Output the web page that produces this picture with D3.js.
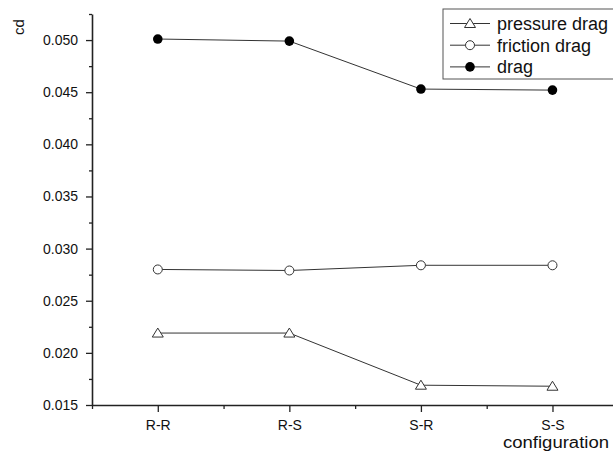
<!DOCTYPE html>
<html>
<head>
<meta charset="utf-8">
<script src="https://cdn.jsdelivr.net/npm/d3@7"></script>
<style>
  body { margin: 0; background: #fff; }
  svg { font-family: "Liberation Sans", Arial, sans-serif; }
</style>
</head>
<body>
<div id="chart"></div>
<script>
// categories and series
var categories = ["R-R", "R-S", "S-R", "S-S"];
var pressureDrag = [0.0219, 0.0219, 0.0169, 0.0168];
var frictionDrag = [0.0280, 0.0279, 0.0284, 0.0284];
var totalDrag = [0.0501, 0.0499, 0.0453, 0.0452];
var yTicks = [0.015, 0.020, 0.025, 0.030, 0.035, 0.040, 0.045, 0.050];

var series = [
    { name: "pressure drag", values: pressureDrag, marker: "triangle" },
    { name: "friction drag", values: frictionDrag, marker: "open" },
    { name: "drag", values: totalDrag, marker: "filled" }
];

function createChart() {
    var width = 613, height = 452;
    var svg = d3.select("#chart").append("svg")
        .attr("width", width)
        .attr("height", height);

    var x = d3.scaleLinear().domain([0.5, 4.46]).range([92, 613]);
    var y = d3.scaleLinear().domain([0.015, 0.0525]).range([405, 14]);

    // minor y ticks
    var yMinor = d3.range(0.0175, 0.0526, 0.005);
    svg.append("g")
        .attr("transform", "translate(92,0)")
        .call(d3.axisLeft(y).tickValues(yMinor).tickSize(3).tickFormat(""))
        .call(function (g) { g.select(".domain").remove(); })
        .selectAll("line").attr("stroke", "#222").attr("stroke-width", 1.3);

    var yAxis = svg.append("g")
        .attr("transform", "translate(92,0)")
        .call(d3.axisLeft(y).tickValues(yTicks).tickSize(6).tickSizeOuter(0).tickPadding(8).tickFormat(d3.format(".3f")));
    yAxis.select(".domain").attr("stroke", "#222").attr("stroke-width", 1.6);
    yAxis.selectAll(".tick line").attr("stroke", "#222").attr("stroke-width", 1.3);
    yAxis.selectAll("text").attr("font-size", 14).attr("fill", "#111");

    // minor x ticks
    svg.append("g")
        .attr("transform", "translate(0,405)")
        .call(d3.axisBottom(x).tickValues([0.5, 1.5, 2.5, 3.5]).tickSize(4).tickFormat(""))
        .call(function (g) { g.select(".domain").remove(); })
        .selectAll("line").attr("stroke", "#222").attr("stroke-width", 1.3);

    var xAxis = svg.append("g")
        .attr("transform", "translate(0,405)")
        .call(d3.axisBottom(x).tickValues([1, 2, 3, 4]).tickSize(7).tickSizeOuter(0).tickPadding(8)
            .tickFormat(function (d) { return categories[d - 1]; }));
    xAxis.select(".domain").attr("stroke", "#222").attr("stroke-width", 1.6);
    xAxis.selectAll(".tick line").attr("stroke", "#222").attr("stroke-width", 1.3);
    xAxis.selectAll("text").attr("font-size", 14).attr("fill", "#111");

    // axis titles
    svg.append("text")
        .attr("transform", "translate(24,27) rotate(-90)")
        .attr("text-anchor", "middle")
        .attr("font-size", 15)
        .attr("fill", "#111")
        .text("cd");

    svg.append("text")
        .attr("x", 556)
        .attr("y", 448)
        .attr("text-anchor", "middle")
        .attr("font-size", 16)
        .attr("textLength", 106)
        .attr("lengthAdjust", "spacingAndGlyphs")
        .attr("fill", "#111")
        .text("configuration");

    var line = d3.line()
        .x(function (d, i) { return x(i + 1); })
        .y(function (d) { return y(d); });

    function drawMarker(g, type, cx, cy) {
        if (type === "triangle") {
            g.append("path")
                .attr("d", "M" + cx + "," + (cy - 5) + "L" + (cx + 5.5) + "," + (cy + 4) + "L" + (cx - 5.5) + "," + (cy + 4) + "Z")
                .attr("fill", "#fff").attr("stroke", "#333").attr("stroke-width", 1);
        } else if (type === "open") {
            g.append("circle").attr("cx", cx).attr("cy", cy).attr("r", 4.5)
                .attr("fill", "#fff").attr("stroke", "#333").attr("stroke-width", 1);
        } else {
            g.append("circle").attr("cx", cx).attr("cy", cy).attr("r", 4.8)
                .attr("fill", "#000");
        }
    }

    series.forEach(function (s) {
        svg.append("path")
            .datum(s.values)
            .attr("d", line)
            .attr("fill", "none")
            .attr("stroke", "#333")
            .attr("stroke-width", 1);
        var g = svg.append("g");
        s.values.forEach(function (v, i) { drawMarker(g, s.marker, x(i + 1), y(v)); });
    });

    // legend
    var legend = svg.append("g");
    legend.append("rect")
        .attr("x", 443).attr("y", 9)
        .attr("width", 180).attr("height", 70)
        .attr("fill", "#fff")
        .attr("stroke", "#555")
        .attr("stroke-width", 1);

    series.forEach(function (s, i) {
        var ly = 23.5 + i * 21.7;
        legend.append("line")
            .attr("x1", 450).attr("x2", 490)
            .attr("y1", ly).attr("y2", ly)
            .attr("stroke", "#333").attr("stroke-width", 1);
        drawMarker(legend, s.marker, 470, ly);
        legend.append("text")
            .attr("x", 497).attr("y", ly)
            .attr("dy", "0.35em")
            .attr("font-size", 18)
            .attr("fill", "#111")
            .text(s.name);
    });
}

createChart();
</script>
</body>
</html>
